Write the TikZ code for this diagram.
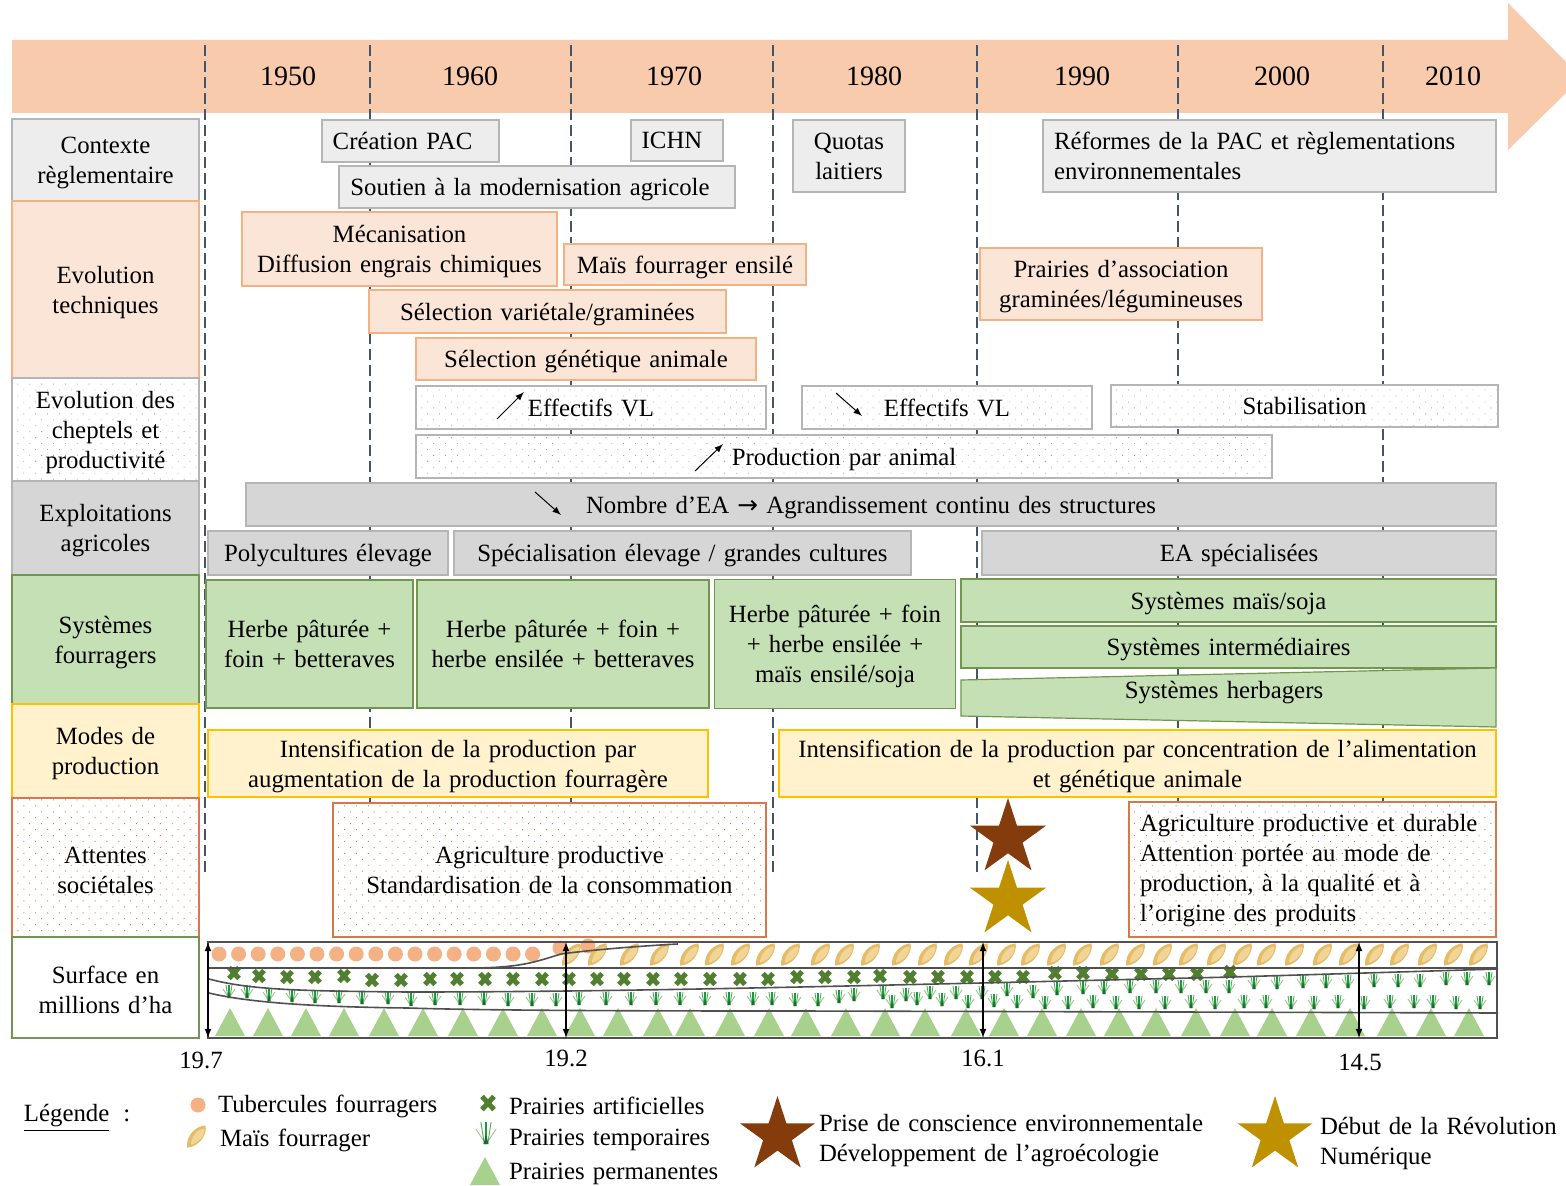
\documentclass[tikz,border=0pt]{standalone}
\usepackage{fontspec}
\setmainfont{Liberation Serif}
\newfontfamily\fleche{DejaVu Sans}
\usetikzlibrary{positioning, patterns.meta, shapes.geometric}
\definecolor{frise}{HTML}{F8CBAD}
\definecolor{anneetrait}{HTML}{44546A}
\definecolor{grisclair}{HTML}{EDEDED}
\definecolor{grisbord}{HTML}{B5B5B5}
\definecolor{grisdense}{HTML}{D6D6D6}
\definecolor{saumon}{HTML}{FBE5D6}
\definecolor{saumonbord}{HTML}{F4B183}
\definecolor{vert}{HTML}{C5E0B4}
\definecolor{vertbord}{HTML}{70964F}
\definecolor{jaune}{HTML}{FFF2CC}
\definecolor{jaunebord}{HTML}{FFC000}
\definecolor{orangebord}{HTML}{D9774A}
\definecolor{orangepoint}{HTML}{E07B39}
\definecolor{brun}{HTML}{843C0C}
\definecolor{ocre}{HTML}{BF9000}
\definecolor{mais}{HTML}{F1D596}
\definecolor{maisfonce}{HTML}{E5BC68}
\definecolor{croixvert}{HTML}{4F7F2F}
\definecolor{herbevert}{HTML}{1E9A3E}
\definecolor{herbeclair}{HTML}{9CC48C}
\definecolor{triangle}{HTML}{A9D18E}
\definecolor{cadre}{HTML}{505050}
\newcommand{\texte}{\fontsize{12.4}{15}\selectfont\spaceskip=.33em\relax}
\newcommand{\bas}[1][11.5pt]{\rule{0pt}{#1}}
\tikzset{
    boite/.style = {draw, font=\texte, inner sep=0pt, outer sep=0pt, align=center, line width=0.6pt},
    grise/.style = {boite, fill=grisclair, draw=grisbord},
    technique/.style = {boite, fill=saumon, draw=saumonbord},
    cheptel/.style = {boite, draw=grisbord, preaction={fill=white},
        pattern={Dots[distance=4.2pt, angle=45, radius=0.3pt]}, pattern color=gray!70},
    dense/.style = {boite, fill=grisdense, draw=grisbord},
    systeme/.style = {boite, fill=vert, draw=vertbord},
    mode/.style = {boite, fill=jaune, draw=jaunebord},
    attente/.style = {boite, draw=orangebord, preaction={fill=white},
        pattern={Dots[distance=4.2pt, angle=45, radius=0.35pt]}, pattern color=orangepoint},
    surface/.style = {boite, fill=white, draw=vertbord},
    libre/.style = {font=\texte, inner sep=0pt, outer sep=0pt},
    anneelabel/.style = {inner sep=0pt, outer sep=0pt, font=\fontsize{14}{15}\selectfont},
    pleine/.style = {libre, star, star points=5, star point ratio=2.618},
    pointille/.style = {anneetrait, line width=1pt, dash pattern=on 5.5pt off 2.5pt},
    tendance/.style = {-latex, line width=0.5pt},
    hectare/.style = {latex-latex, line width=0.6pt},
    courbe/.style = {cadre, line width=0.8pt},
    pics/epi/.style = {code={
        \fill[maisfonce, rotate=-40] (0,14) .. controls (-9,5) and (-7,-9) .. (0,-15)
            .. controls (7,-9) and (9,5) .. (0,14) -- cycle;
        \fill[mais, rotate=-40] (1,9) .. controls (-4,3) and (-4,-7) .. (1,-12)
            .. controls (6,-7) and (6,3) .. (1,9) -- cycle;
    }},
    pics/croix/.style = {code={
        \draw[croixvert, line width=2.5pt] (-5,-5.5) -- (5,5.5) (-5,5.5) -- (5,-5.5);
    }},
    pics/touffe/.style = {code={
        \draw[herbeclair, line width=0.45pt] (0,6) -- (-6,-3) (0,6) -- (6,-3);
        \draw[herbevert!60!herbeclair, line width=0.45pt] (-1,6) -- (-3,-7) (1,6) -- (3,-7);
        \draw[herbevert, line width=0.6pt] (0,6) -- (0,-7);
        \fill[herbevert!70!black] (-1.5,6) -- (1.5,6) -- (0,0) -- cycle;
    }},
    pics/prairie/.style = {code={
        \fill[triangle] (-15,14) -- (15,14) -- (0,-14) -- cycle;
    }} }

\begin{document}
\begin{tikzpicture}[x=0.5pt, y=-0.5pt]
      \useasboundingbox (0,0) rectangle (1566,1186);
      % ---- frise
      \fill[frise] (12,40) -- (1508,40) -- (1508,3) -- (1566,62) -- (1566,93) -- (1508,150)
          -- (1508,113) -- (12,113) -- cycle;
      \foreach \x/\ybas in {205/872, 370/875, 571/875, 773/875, 977/875, 1178/875, 1383/875} {
          \coordinate (h\x) at (\x,45);
          \coordinate (b\x) at (\x,\ybas);
          \draw[pointille] (h\x) -- (b\x);
      }
      \foreach \x/\an in {288/1950, 470/1960, 674/1970, 874/1980, 1082/1990, 1282/2000, 1453/2010}
          \node[anneelabel] (a\an) at (\x,76.5) {\an};
      % ---- colonne de gauche
      \node[grise, minimum width=93.5pt, minimum height=41pt] (contexte) at (105.5,160)
          {\bas Contexte\\règlementaire};
      \node[technique, minimum width=93.5pt, minimum height=88.5pt, below = 0pt of contexte] (techniques)
          {\bas Evolution\\techniques};
      \node[cheptel, minimum width=93.5pt, minimum height=51.5pt, below = 0pt of techniques] (cheptels)
          {\bas Evolution des\\cheptels et\\productivité};
      \node[dense, minimum width=93.5pt, minimum height=47pt, below = 0pt of cheptels] (exploitations)
          {\bas Exploitations\\agricoles};
      \node[systeme, minimum width=93.5pt, minimum height=64.5pt, below = 0pt of exploitations] (fourragers)
          {\bas Systèmes\\fourragers};
      \node[mode, minimum width=93.5pt, minimum height=47pt, below = 0pt of fourragers] (modes)
          {\bas Modes de\\production};
      \node[attente, minimum width=93.5pt, minimum height=69.5pt, below = 0pt of modes] (attentes)
          {\bas Attentes\\sociétales};
      \node[surface, minimum width=93.5pt, minimum height=50.5pt, below = 0pt of attentes] (surfaces)
          {\bas Surface en\\millions d’ha};
      % ---- contexte
      \node[grise, minimum width=88.5pt, minimum height=21pt] (pac) at (410.5,141) {Création PAC\hspace{8pt}};
      \node[grise, minimum width=46pt, minimum height=20.5pt] (ichn) at (677,140.5) {ICHN\hspace{5pt}};
      \node[grise, minimum width=56pt, minimum height=36pt] (quotas) at (849,156) {Quotas\\laitiers};
      \node[grise, minimum width=226.5pt, minimum height=36pt, text width=215.5pt, align=left] (reformes) at (1269.5,156)
          {Réformes de la PAC et règlementations\\environnementales};
      \node[grise, minimum width=198pt, minimum height=21pt] (soutien) at (537,187) {\bas Soutien à la modernisation agricole\hspace{7pt}};
      % ---- techniques
      \node[technique, minimum width=157.5pt, minimum height=37pt] (mecanisation) at (399.5,249)
          {\bas Mécanisation\\Diffusion engrais chimiques};
      \node[technique, minimum width=121pt, minimum height=20.5pt] (ensile) at (685,264.5) {\bas Maïs fourrager ensilé};
      \node[technique, minimum width=141pt, minimum height=36pt] (association) at (1121,284)
          {\bas Prairies d’association\\graminées/légumineuses};
      \node[technique, minimum width=178.5pt, minimum height=21.5pt] (varietale) at (547.5,311.5) {\bas Sélection variétale/graminées};
      \node[technique, minimum width=170pt, minimum height=21pt] (genetique) at (586,359) {\bas Sélection génétique animale};
      % ---- cheptels
      \node[cheptel, minimum width=175pt, minimum height=21.5pt] (hausse) at (591,407.5) {Effectifs VL};
      \node[cheptel, minimum width=145pt, minimum height=21.5pt] (baisse) at (947,407.5) {Effectifs VL};
      \node[cheptel, minimum width=193.5pt, minimum height=21pt] (stable) at (1304.5,406) {\bas[9pt]Stabilisation};
      \node[cheptel, minimum width=428pt, minimum height=21.5pt] (production) at (844,456.5) {\bas Production par animal};
      \coordinate (hd) at (497,419);
      \coordinate (hf) at (524,392);
      \draw[tendance] (hd) -- (hf);
      \coordinate (bd) at (836,393);
      \coordinate (bf) at (862,416);
      \draw[tendance] (bd) -- (bf);
      \coordinate (pd) at (695,471);
      \coordinate (pf) at (723,444);
      \draw[tendance] (pd) -- (pf);
      % ---- exploitations
      \node[dense, minimum width=625pt, minimum height=21.5pt] (nombre) at (871,504.5)
          {\bas Nombre d’EA {\fleche →} Agrandissement continu des structures};
      \coordinate (nd) at (535,492);
      \coordinate (nf) at (561,515);
      \draw[tendance] (nd) -- (nf);
      \node[dense, minimum width=120pt, minimum height=22pt] (polyculture) at (328,553) {\bas Polycultures élevage};
      \node[dense, minimum width=228.5pt, minimum height=22pt] (specialisation) at (682.5,553) {\bas Spécialisation élevage / grandes cultures};
      \node[dense, minimum width=257pt, minimum height=22pt] (specialisees) at (1239,553) {\bas EA spécialisées};
      % ---- systemes
      \node[systeme, minimum width=103.5pt, minimum height=64pt] (s1) at (309.5,644) {Herbe pâturée +\\foin + betteraves};
      \node[systeme, minimum width=146pt, minimum height=64pt] (s2) at (563,644) {Herbe pâturée + foin +\\herbe ensilée + betteraves};
      \node[systeme, minimum width=120.5pt, minimum height=64.5pt] (s3) at (835,644) {\bas Herbe pâturée + foin\\+ herbe ensilée +\\maïs ensilé/soja};
      \node[systeme, minimum width=267.5pt, minimum height=21.5pt] (s4) at (1228.5,600.5) {\bas Systèmes maïs/soja};
      \node[systeme, minimum width=267.5pt, minimum height=21pt] (s5) at (1228.5,647) {\bas Systèmes intermédiaires};
      \draw[vertbord, fill=vert, line width=0.6pt] (961,680) -- (1496,668) -- (1496,727) -- (961,716) -- cycle;
      \node[libre] (s6) at (1224,693) {Systèmes herbagers};
      % ---- modes
      \node[mode, minimum width=250pt, minimum height=33.5pt] (m1) at (458,763.5)
          {\bas Intensification de la production par\\augmentation de la production fourragère};
      \node[mode, minimum width=358.5pt, minimum height=33.5pt] (m2) at (1137.5,763.5)
          {\bas Intensification de la production par concentration de l’alimentation\\et génétique animale};
      % ---- attentes
      \node[attente, minimum width=216.5pt, minimum height=67pt] (a1) at (549.5,870)
          {Agriculture productive\\Standardisation de la consommation};
      \node[attente, minimum width=183.5pt, minimum height=67.5pt, text width=172.5pt, align=left] (a2) at (1312.5,869.5)
          {\bas[10pt]Agriculture productive et durable\\Attention portée au mode de\\production, à la qualité et à\\l’origine des produits};
      \node[pleine, fill=brun, minimum size=40pt] (etoile1) at (1008,838) {};
      \node[pleine, fill=ocre, minimum size=40pt] (etoile2) at (1008,900) {};
      % ---- surfaces
      \foreach \i in {0,...,16}
          \fill[saumonbord] (219+\i*19.6,954) circle (7.5);
      \fill[saumonbord] (560,948) circle (7.5) (588,946) circle (7.5);
      \foreach \x in {571,597,629,659,689,714,740,765,790,820,844,870,901,927,953,978,1006,1030,
          1056,1082,1109,1135,1162,1188,1216,1242,1266,1294,1322,1348,1374,1399,1427,1453,1478}
          \pic at (\x,955) {epi};
      \foreach \x/\y in {234/973,259/976,287/977,315/977,344/976,372/980,401/980,430/979,457/979,
          485/979,513/979,542/979,569/979,597/979,624/979,653/979,681/979,710/979,740/979,768/979,
          797/977,825/977,854/977,880/976,910/977,938/977,967/977,995/977,1023/977,1055/973,
          1083/973,1112/974,1141/974,1169/974,1197/974,1230/972}
          \pic at (\x,\y) {croix};
      \foreach \x/\y in {229/992,247/992,269/995,292/996,315/997,339/997,362/998,388/998,411/1000,
          435/999,460/999,484/999,508/1000,532/1000,556/1000,579/999,606/999,631/999,656/999,
          680/999,705/999,729/999,753/999,772/999,795/1000,818/1000,839/997,854/995,883/993,
          892/1002,906/995,917/999,930/993,942/1000,956/993,968/1002,982/993,994/1001,1007/990,
          1017/1002,1033/992,1045/1003,1057/989,1068/1003,1083/988,1093/1002,1104/988,1116/1003,
          1130/987,1139/1003,1156/987,1165/1003,1181/987,1191/1002,1206/987,1215/1003,1229/987,
          1244/1002,1266/1002,1291/1003,1314/1003,1338/1002,1364/1003,1390/1002,1414/1002,
          1433/1002,1456/1003,1480/1003,1254/983,1277/983,1303/982,1326/982,1348/982,1374/981,
          1398/981,1420/981,1446/979,1467/979,1489/979}
          \pic at (\x,\y) {touffe};
      \foreach \x in {230,268,306,344,384,423,463,503,542,580,618,658,690,730,769,806,846,885,925,
          966,1004,1042,1081,1119,1156,1196,1235,1272,1311,1350,1392,1431,1469}
          \pic at (\x,1022) {prairie};
      \draw[courbe] (208,968) -- (1498,968);
      \draw[courbe] (469,968) .. controls (520,968) and (535,962) .. (561,954)
          .. controls (590,950) and (640,946) .. (678,944);
      \draw[courbe] (209,979) .. controls (250,990) and (300,991) .. (408,992)
          .. controls (600,992) and (800,987) .. (981,983) -- (1232,977) -- (1498,969);
      \draw[courbe] (209,993) .. controls (250,1003) and (320,1007) .. (408,1008)
          .. controls (500,1011) and (700,1011) .. (800,1011) -- (1182,1012) -- (1498,1013);
      \draw[cadre, line width=0.9pt] (208,942) rectangle (1497,1038);
      \foreach \x in {208, 566, 983, 1359} {
          \coordinate (t\x) at (\x,942);
          \coordinate (p\x) at (\x,1038);
          \draw[hectare] (t\x) -- (p\x);
      }
      \node[libre] (v1) at (201,1060) {19.7};
      \node[libre] (v2) at (566,1058) {19.2};
      \node[libre] (v3) at (983,1058) {16.1};
      \node[libre] (v4) at (1360,1062) {14.5};
      % ---- legende
      \node[libre, anchor=west] (legende) at (24,1118) {\underline{Légende}\hspace{7pt}:};
      \fill[saumonbord] (198,1105) circle (7.5);
      \pic at (196,1137) {epi};
      \pic[scale=1.2] at (488,1103) {croix};
      \pic[scale=1.7] at (486,1134) {touffe};
      \pic at (485,1171) {prairie};
      \node[libre, anchor=west] (l1) at (218,1106) {Tubercules fourragers};
      \node[libre, anchor=west] (l2) at (220,1140) {Maïs fourrager};
      \node[libre, anchor=west] (l3) at (509,1106) {Prairies artificielles};
      \node[libre, anchor=west] (l4) at (509,1140) {Prairies temporaires};
      \node[libre, anchor=west] (l5) at (509,1174) {Prairies permanentes};
      \node[pleine, fill=brun, minimum size=39.5pt] (etoile3) at (777.5,1135.5) {};
      \node[pleine, fill=ocre, minimum size=39.5pt] (etoile4) at (1275,1135.5) {};
      \node[libre, anchor=west, align=left] (l6) at (819,1141) {Prise de conscience environnementale\\Développement de l’agroécologie};
      \node[libre, anchor=west, align=left] (l7) at (1320,1144) {Début de la Révolution\\Numérique};
\end{tikzpicture}
\end{document}
